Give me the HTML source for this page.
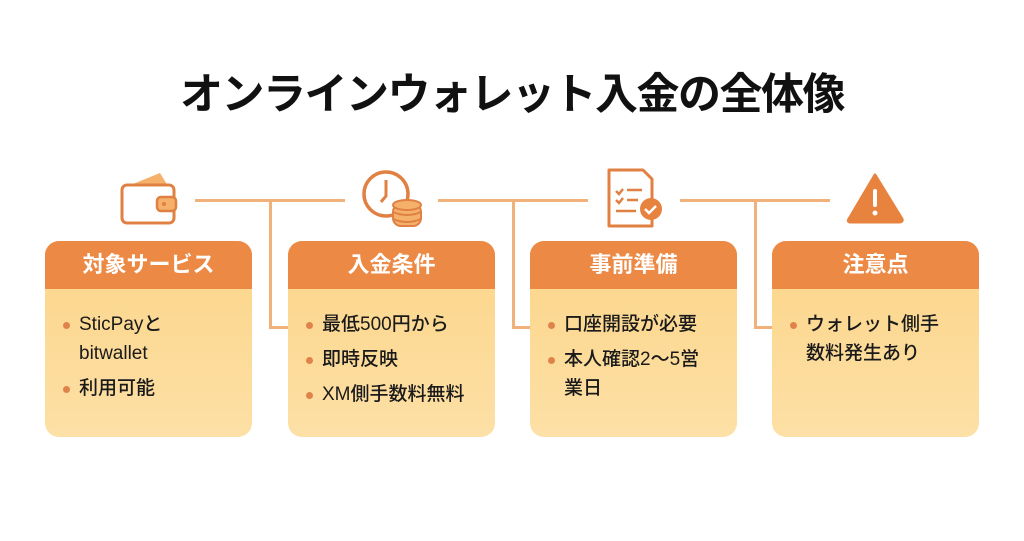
<!DOCTYPE html>
<html><head><meta charset="utf-8"><style>
*{margin:0;padding:0;box-sizing:border-box}
body{width:1024px;height:541px;background:#fff;position:relative;overflow:hidden;font-family:"Liberation Sans","Noto Sans CJK JP",sans-serif}
.title{position:absolute;left:0;width:1024px;top:60px;text-align:center;font-size:43px;font-weight:bold;letter-spacing:-1.5px;color:#111;white-space:nowrap}
.card{position:absolute;top:241px;width:207px;height:196px;border-radius:14px;background:linear-gradient(#fcd588,#fde0a6);overflow:hidden}
.hd{height:48px;background:#ec8a45;color:#fff;font-size:22px;font-weight:bold;text-align:center;line-height:48px}
ul{list-style:none;padding:21px 4px 0 34px;font-size:19px;line-height:29px;color:#1a1a1a;font-weight:500}
li{position:relative;margin-bottom:6px}
li:before{content:"";position:absolute;left:-16px;top:12px;width:7px;height:7px;border-radius:50%;background:#e0834a}
.ln{position:absolute;background:#f0b27a}
</style></head><body>
<div class="title">オンラインウォレット入金の全体像</div>

<div class="ln" style="left:195px;top:199px;width:150px;height:3px"></div>
<div class="ln" style="left:269px;top:199px;width:3px;height:130px"></div>
<div class="ln" style="left:269px;top:326px;width:20px;height:3px"></div>

<div class="ln" style="left:438px;top:199px;width:150px;height:3px"></div>
<div class="ln" style="left:512px;top:199px;width:3px;height:130px"></div>
<div class="ln" style="left:512px;top:326px;width:20px;height:3px"></div>

<div class="ln" style="left:680px;top:199px;width:150px;height:3px"></div>
<div class="ln" style="left:754px;top:199px;width:3px;height:130px"></div>
<div class="ln" style="left:754px;top:326px;width:20px;height:3px"></div>

<svg style="position:absolute;left:0;top:0" width="1024" height="541">
 <path d="M128 186 L160 173 L168 186 Z" fill="#f5b06a"/>
 <rect x="122" y="185" width="52" height="38" rx="5" fill="none" stroke="#e08042" stroke-width="3"/>
 <rect x="157" y="197" width="19" height="14" rx="4" fill="#f5b06a" stroke="#e08042" stroke-width="2.5"/>
 <circle cx="164" cy="204" r="2" fill="#e08042"/>
 <circle cx="386" cy="194" r="22" fill="none" stroke="#e08042" stroke-width="3.5"/>
 <path d="M386 180 V196 L381 202" fill="none" stroke="#e08042" stroke-width="3"/>
 <rect x="393" y="204" width="28" height="22" rx="8" fill="#f5b06a" stroke="#e08042" stroke-width="2"/>
 <ellipse cx="407" cy="205" rx="14" ry="5" fill="#f5b06a" stroke="#e08042" stroke-width="2"/>
 <path d="M393 212 Q407 218 421 212 M393 219 Q407 225 421 219" fill="none" stroke="#e08042" stroke-width="2"/>
 <path d="M609 170 H643 L652 179 V226 H609 Z" fill="none" stroke="#e08042" stroke-width="3" stroke-linejoin="round"/>
 <path d="M616 191 l3 3 l4 -5 M627 190 H642 M616 200 l3 3 l4 -5 M627 200 H638 M616 211 H636" fill="none" stroke="#e08042" stroke-width="2.5"/>
 <circle cx="651" cy="209" r="11" fill="#e8833f"/>
 <path d="M645 209 l4 4 l7 -7" fill="none" stroke="#fff" stroke-width="2.5"/>
 <path d="M875 175 L902 219 Q903 222 899 222 H851 Q847 222 849 219 Z" fill="#e8833f" stroke="#e8833f" stroke-width="3" stroke-linejoin="round"/>
 <rect x="873" y="189" width="4" height="18" rx="2" fill="#fff"/>
 <circle cx="875" cy="213" r="2.5" fill="#fff"/>
</svg>

<div class="card" style="left:45px"><div class="hd">対象サービス</div>
<ul><li>SticPayと<br>bitwallet</li><li>利用可能</li></ul></div>
<div class="card" style="left:288px"><div class="hd">入金条件</div>
<ul><li>最低500円から</li><li>即時反映</li><li>XM側手数料無料</li></ul></div>
<div class="card" style="left:530px"><div class="hd">事前準備</div>
<ul><li>口座開設が必要</li><li>本人確認2～5営<br>業日</li></ul></div>
<div class="card" style="left:772px"><div class="hd">注意点</div>
<ul><li>ウォレット側手<br>数料発生あり</li></ul></div>
</body></html>
